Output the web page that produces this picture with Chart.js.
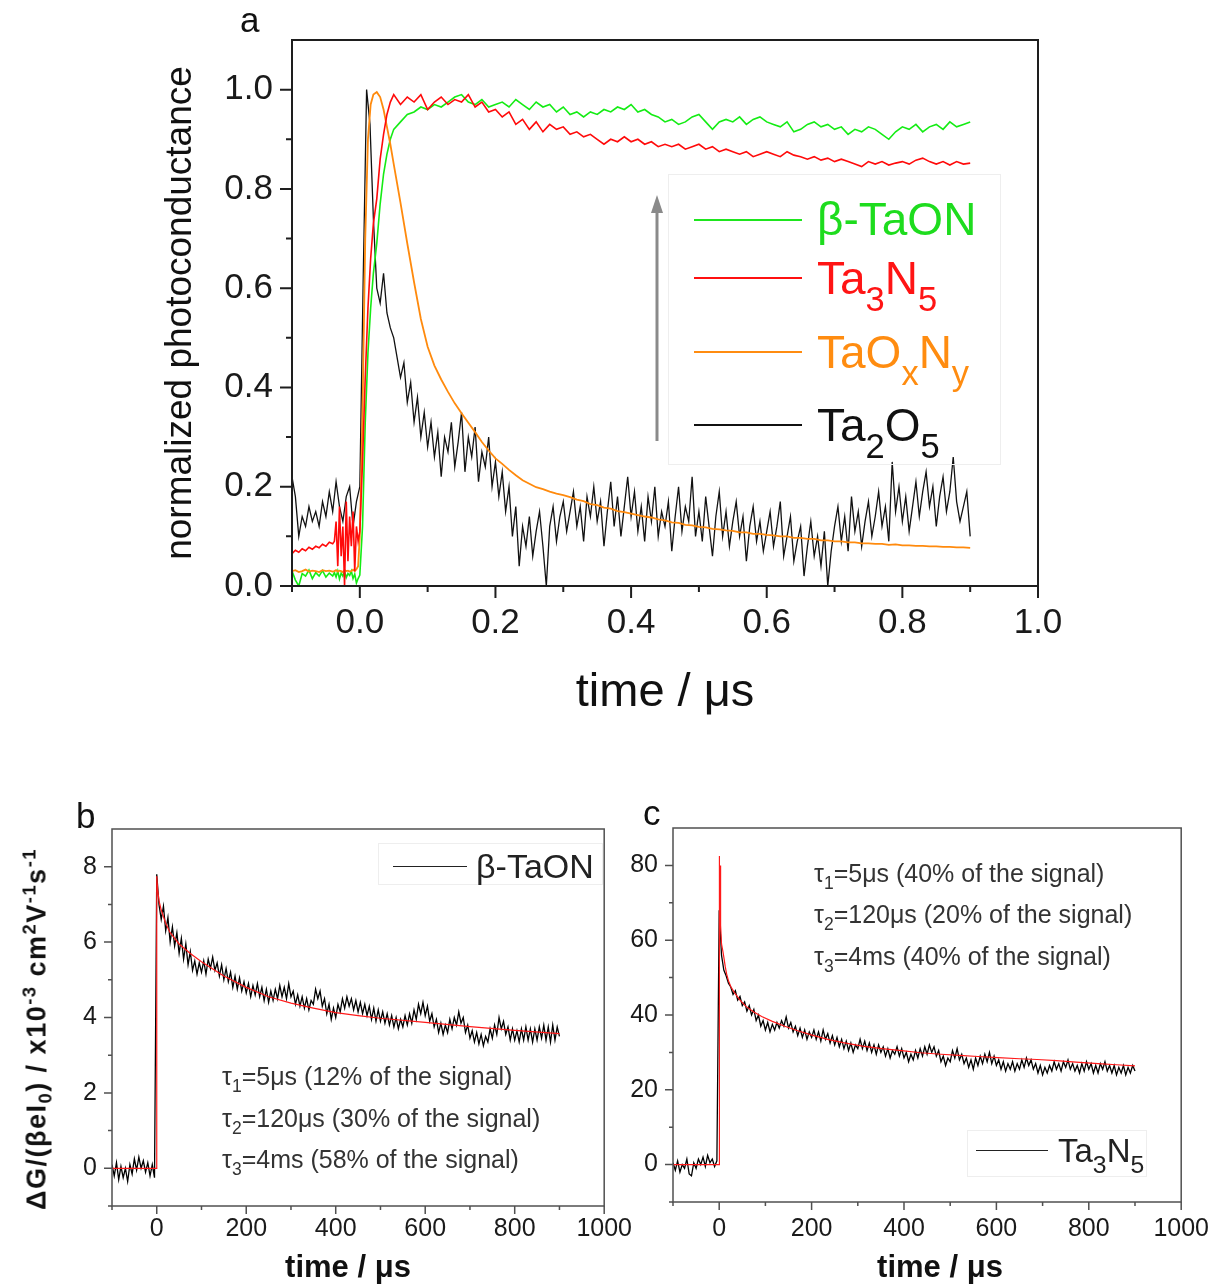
<!DOCTYPE html>
<html><head><meta charset="utf-8">
<script src="https://cdn.jsdelivr.net/npm/chart.js@4.4.1/dist/chart.umd.min.js"></script>
<style>
html,body{margin:0;padding:0;background:#fff;}
body{width:1221px;height:1287px;position:relative;overflow:hidden;font-family:"Liberation Sans",Arial,sans-serif;}
canvas{position:absolute;}
.t{position:absolute;white-space:nowrap;line-height:1;}
.box{position:absolute;border:1px solid #eeeeee;box-sizing:border-box;}
.ln{position:absolute;}
.lg sub{font-size:75%;vertical-align:-17px;line-height:0;}
.ls sub{font-size:75%;vertical-align:-11px;line-height:0;}
.an sub{font-size:70%;vertical-align:-7px;line-height:0;}
.yt sup{font-size:68%;vertical-align:10px;line-height:0;}
.yt sub{font-size:68%;vertical-align:-6px;line-height:0;}
</style></head><body>
<canvas id="ca" width="1221" height="760" style="left:0;top:0"></canvas>
<canvas id="cb" width="640" height="497" style="left:0;top:790px"></canvas>
<canvas id="cc" width="601" height="497" style="left:620px;top:790px"></canvas>

<!-- panel letters -->
<div class="t" style="left:240px;top:2px;font-size:35px;color:#111">a</div>
<div class="t" style="left:76px;top:798px;font-size:35px;color:#111">b</div>
<div class="t" style="left:643px;top:795px;font-size:35px;color:#111">c</div>

<!-- panel a legend -->
<div class="box" style="left:668px;top:174px;width:333px;height:291px"></div>
<svg style="position:absolute;left:0;top:0" width="1221" height="760">
  <line x1="657" y1="441" x2="657" y2="208" stroke="#8a8a8a" stroke-width="3"/>
  <polygon points="657,195 651,213 663,213" fill="#8a8a8a"/>
</svg>
<div class="ln" style="left:694px;top:218.5px;width:108px;height:2px;background:#1ee61e"></div>
<div class="ln" style="left:694px;top:277px;width:108px;height:2px;background:#ff1010"></div>
<div class="ln" style="left:694px;top:350.5px;width:108px;height:2px;background:#ff8c10"></div>
<div class="ln" style="left:694px;top:424px;width:108px;height:2px;background:#111"></div>
<div class="t lg" style="left:817px;top:196px;font-size:46px;color:#1edc1e">β-TaON</div>
<div class="t lg" style="left:817px;top:255px;font-size:46px;color:#ff1414">Ta<sub>3</sub>N<sub>5</sub></div>
<div class="t lg" style="left:817px;top:328.5px;font-size:46px;color:#ff8c10">TaO<sub>x</sub>N<sub>y</sub></div>
<div class="t lg" style="left:817px;top:402px;font-size:46px;color:#111">Ta<sub>2</sub>O<sub>5</sub></div>

<!-- panel b extras -->
<div class="box" style="left:378px;top:843px;width:225px;height:42px"></div>
<div class="ln" style="left:393px;top:865.5px;width:74px;height:1.5px;background:#222"></div>
<div class="t" style="left:476px;top:849px;font-size:34px;color:#222">β-TaON</div>
<div class="t an" style="left:222px;top:1064px;font-size:25px;color:#333">τ<sub>1</sub>=5μs (12% of the signal)</div>
<div class="t an" style="left:222px;top:1106px;font-size:25px;color:#333">τ<sub>2</sub>=120μs (30% of the signal)</div>
<div class="t an" style="left:222px;top:1147px;font-size:25px;color:#333">τ<sub>3</sub>=4ms (58% of the signal)</div>
<div class="t" style="left:348px;top:1251px;font-size:31px;font-weight:bold;color:#111;transform:translateX(-50%)">time / μs</div>
<div class="t yt" style="left:37px;top:1029px;font-size:27px;font-weight:bold;color:#111;letter-spacing:1.5px;transform:translate(-50%,-50%) rotate(-90deg)">ΔG/(βeI<sub>0</sub>) / x10<sup>-3</sup> cm<sup>2</sup>V<sup>-1</sup>s<sup>-1</sup></div>

<!-- panel c extras -->
<div class="box" style="left:967px;top:1130px;width:180px;height:47px"></div>
<div class="ln" style="left:976px;top:1149.5px;width:72px;height:1.5px;background:#222"></div>
<div class="t ls" style="left:1058px;top:1134px;font-size:33px;color:#222">Ta<sub>3</sub>N<sub>5</sub></div>
<div class="t an" style="left:814px;top:861px;font-size:25px;color:#333">τ<sub>1</sub>=5μs (40% of the signal)</div>
<div class="t an" style="left:814px;top:902px;font-size:25px;color:#333">τ<sub>2</sub>=120μs (20% of the signal)</div>
<div class="t an" style="left:814px;top:944px;font-size:25px;color:#333">τ<sub>3</sub>=4ms (40% of the signal)</div>
<div class="t" style="left:940px;top:1251px;font-size:31px;font-weight:bold;color:#111;transform:translateX(-50%)">time / μs</div>

<script>
// ---------------- DATA ----------------
// Panel a: shared time axis for β-TaON, Ta3N5, TaOxNy (μs)
const tA = [-0.100,-0.095,-0.090,-0.085,-0.080,-0.075,-0.070,-0.065,-0.060,-0.055,-0.050,-0.045,-0.040,
 -0.0375,-0.035,-0.0325,-0.030,-0.0275,-0.025,-0.0225,-0.020,-0.0175,-0.015,-0.0125,-0.010,-0.0075,-0.005,-0.0025,0.000,
 0.004,0.008,0.012,0.016,0.020,
 0.025,0.030,0.035,0.040,0.045,0.050,
 0.06,0.07,0.08,0.09,0.10,
 0.11,0.12,0.13,0.14,0.15,0.16,0.17,0.18,0.19,0.20,
 0.21,0.22,0.23,0.24,0.25,0.26,0.27,0.28,0.29,0.30,
 0.31,0.32,0.33,0.34,0.35,0.36,0.37,0.38,0.39,0.40,
 0.41,0.42,0.43,0.44,0.45,0.46,0.47,0.48,0.49,0.50,
 0.51,0.52,0.53,0.54,0.55,0.56,0.57,0.58,0.59,0.60,
 0.61,0.62,0.63,0.64,0.65,0.66,0.67,0.68,0.69,0.70,
 0.71,0.72,0.73,0.74,0.75,0.76,0.77,0.78,0.79,0.80,
 0.81,0.82,0.83,0.84,0.85,0.86,0.87,0.88,0.89,0.90];

const greenA = [0.03,0.012,0.0,0.025,0.02,0.032,0.015,0.027,0.02,0.031,0.018,0.026,0.02,
 0.027,0.018,0.03,0.014,0.026,0.02,0.029,0.017,0.025,0.021,0.03,0.015,0.024,0.006,0.015,0.022,
 0.12,0.33,0.47,0.56,0.63,
 0.69,0.77,0.83,0.87,0.90,0.92,
 0.935,0.95,0.955,0.965,0.96,
 0.97,0.965,0.975,0.985,0.99,0.975,0.97,0.98,0.965,0.97,
 0.975,0.965,0.98,0.97,0.96,0.975,0.965,0.97,0.955,0.965,
 0.95,0.955,0.945,0.955,0.95,0.96,0.955,0.965,0.96,0.97,
 0.955,0.96,0.95,0.945,0.935,0.94,0.93,0.935,0.945,0.95,
 0.935,0.92,0.935,0.94,0.935,0.945,0.93,0.94,0.945,0.935,
 0.93,0.925,0.935,0.915,0.92,0.93,0.935,0.925,0.93,0.92,
 0.925,0.91,0.92,0.915,0.925,0.92,0.91,0.9,0.915,0.925,
 0.92,0.93,0.915,0.925,0.93,0.92,0.935,0.925,0.93,0.935];

const redA = [0.065,0.072,0.068,0.075,0.071,0.078,0.074,0.08,0.077,0.084,0.08,0.088,0.085,
 0.09,0.13,0.04,0.16,0.06,0.12,0.0,0.17,0.05,0.14,0.08,0.15,0.03,0.12,0.09,0.11,
 0.25,0.42,0.56,0.66,0.73,
 0.78,0.86,0.91,0.95,0.975,0.99,
 0.97,0.985,0.975,0.99,0.96,
 0.975,0.985,0.97,0.98,0.975,0.99,0.965,0.975,0.955,0.96,
 0.945,0.955,0.93,0.94,0.92,0.935,0.915,0.93,0.92,0.925,
 0.91,0.915,0.905,0.91,0.9,0.89,0.9,0.895,0.905,0.895,
 0.9,0.89,0.895,0.885,0.89,0.885,0.89,0.88,0.885,0.89,
 0.88,0.885,0.875,0.88,0.875,0.87,0.875,0.865,0.87,0.875,
 0.87,0.865,0.875,0.868,0.865,0.86,0.865,0.858,0.862,0.855,
 0.86,0.855,0.85,0.845,0.855,0.85,0.855,0.848,0.852,0.855,
 0.85,0.858,0.862,0.855,0.85,0.855,0.848,0.855,0.85,0.852];

const orangeA = [0.03,0.032,0.028,0.03,0.033,0.029,0.031,0.03,0.028,0.032,0.03,0.031,0.029,
 0.03,0.032,0.029,0.031,0.03,0.028,0.032,0.03,0.031,0.029,0.03,0.033,0.03,0.034,0.04,0.1,
 0.35,0.7,0.9,0.97,0.99,
 0.995,0.985,0.96,0.925,0.89,0.85,
 0.772,0.69,0.612,0.538,0.482,
 0.444,0.416,0.391,0.368,0.348,0.329,0.31,0.29,0.273,0.257,
 0.246,0.234,0.223,0.213,0.206,0.199,0.195,0.19,0.186,0.183,
 0.179,0.174,0.171,0.165,0.163,0.158,0.156,0.151,0.149,0.146,
 0.143,0.14,0.138,0.134,0.132,0.128,0.127,0.123,0.122,0.119,
 0.118,0.115,0.114,0.112,0.111,0.108,0.108,0.105,0.105,0.103,
 0.102,0.1,0.1,0.097,0.097,0.095,0.095,0.092,0.092,0.09,
 0.09,0.088,0.088,0.086,0.086,0.085,0.085,0.083,0.084,0.082,
 0.082,0.081,0.081,0.08,0.08,0.079,0.079,0.078,0.078,0.077];

// Ta2O5 sampled every 0.005 μs from -0.100 to 0.900
const tBlackA0 = -0.1, dtBlackA = 0.005;
const blackA = [0.22,0.18,0.1,0.14,0.12,0.16,0.13,0.15,0.12,0.17,
 0.14,0.19,0.15,0.21,0.16,0.13,0.18,0.2,0.12,0.17,
 0.2,0.62,1.0,0.93,0.74,0.6,0.57,0.63,0.55,0.52,
 0.5,0.46,0.42,0.45,0.37,0.41,0.33,0.38,0.3,0.35,
 0.28,0.33,0.26,0.31,0.22,0.3,0.27,0.33,0.24,0.29,
 0.35,0.23,0.3,0.26,0.32,0.21,0.27,0.24,0.3,0.2,
 0.25,0.18,0.23,0.15,0.2,0.1,0.16,0.04,0.12,0.08,
 0.14,0.06,0.11,0.15,0.08,0.0,0.12,0.16,0.09,0.14,
 0.17,0.11,0.15,0.19,0.12,0.16,0.09,0.18,0.14,0.2,
 0.13,0.17,0.08,0.15,0.21,0.12,0.18,0.1,0.16,0.22,
 0.14,0.19,0.11,0.16,0.09,0.18,0.13,0.2,0.1,0.15,
 0.12,0.17,0.07,0.14,0.2,0.11,0.16,0.13,0.22,0.1,
 0.15,0.09,0.18,0.12,0.06,0.14,0.19,0.1,0.15,0.08,
 0.13,0.17,0.1,0.14,0.05,0.12,0.16,0.09,0.13,0.07,
 0.11,0.15,0.08,0.12,0.17,0.06,0.1,0.14,0.05,0.09,
 0.12,0.02,0.08,0.13,0.06,0.1,0.04,0.11,0.0,0.07,
 0.12,0.16,0.09,0.14,0.07,0.18,0.11,0.15,0.08,0.13,
 0.17,0.1,0.14,0.19,0.12,0.16,0.09,0.25,0.15,0.2,
 0.13,0.18,0.11,0.16,0.21,0.14,0.19,0.23,0.16,0.2,
 0.12,0.18,0.22,0.15,0.19,0.26,0.17,0.13,0.16,0.19,
 0.1];

const xTicksA = [0,0.2,0.4,0.6,0.8,1.0];
const xMinorA = [-0.1,0.1,0.3,0.5,0.7,0.9];
const yTicksA = [0,0.2,0.4,0.6,0.8,1.0];
const yMinorA = [0.1,0.3,0.5,0.7,0.9];

// Panel b: β-TaON, sampled every 5 μs from -100 to 900
const tB0 = -100, dtB = 5;
const signalB = [0.1,-0.2,0.15,-0.3,0.05,-0.25,0.0,-0.35,0.1,-0.15,0.25,-0.05,0.3,0.0,0.2,-0.1,0.15,-0.2,0.1,-0.25,
 7.8,7.0,
 6.6,6.95,6.3,6.65,6.0,6.4,5.9,6.25,5.7,6.1,
 5.55,5.95,5.4,5.75,5.25,5.5,5.15,5.45,5.2,5.5,
 5.15,5.55,5.3,5.6,5.25,5.45,5.1,5.4,5.0,5.3,
 4.95,5.2,4.8,5.1,4.75,5.05,4.7,4.95,4.65,4.9,
 4.55,4.85,4.6,4.9,4.55,4.8,4.45,4.75,4.4,4.7,
 4.45,4.75,4.5,4.85,4.55,4.8,4.5,4.9,4.55,4.7,
 4.35,4.6,4.3,4.55,4.25,4.5,4.2,4.45,4.35,4.75,
 4.5,4.7,4.3,4.5,4.1,4.35,3.95,4.25,4.0,4.35,
 4.15,4.5,4.25,4.55,4.3,4.5,4.2,4.45,4.15,4.4,
 4.1,4.35,4.05,4.3,3.95,4.25,3.9,4.2,3.9,4.15,
 3.85,4.1,3.8,4.05,3.75,4.0,3.7,3.95,3.75,4.05,
 3.8,4.1,3.85,4.2,3.95,4.35,4.1,4.4,4.05,4.3,
 3.9,4.1,3.75,3.95,3.6,3.85,3.55,3.8,3.6,3.95,
 3.7,4.0,3.8,4.15,3.85,4.0,3.6,3.8,3.45,3.65,
 3.35,3.6,3.3,3.55,3.25,3.5,3.35,3.7,3.45,3.8,
 3.55,4.0,3.7,3.9,3.55,3.75,3.4,3.7,3.4,3.65,
 3.35,3.7,3.4,3.75,3.4,3.7,3.35,3.7,3.4,3.75,
 3.45,3.8,3.4,3.75,3.35,3.8,3.4,3.75,3.5];
const tFitB = [-100,0,0,2,5,10,20,30,50,75,100,150,200,250,300,350,400,450,500,600,700,800,900];
const yFitB = [0,0,7.75,7.4,7.1,6.85,6.5,6.25,5.95,5.7,5.48,5.1,4.8,4.55,4.38,4.25,4.13,4.05,3.98,3.87,3.76,3.66,3.57];
const xTicksBC = [0,200,400,600,800,1000];
const xMinorBC = [-100,100,300,500,700,900];
const yTicksB = [0,2,4,6,8];
const yMinorB = [-1,1,3,5,7];

// Panel c: Ta3N5, sampled every 5 μs from -100 to 900
const tC0 = -100, dtC = 5;
const signalC = [0.5,-1.5,1.0,-2.0,0.0,-1.0,1.5,-2.5,-3.0,0.5,-1.0,1.5,0.0,2.0,-0.5,2.5,0.5,1.5,-0.5,1.0,
 68,56,
 52,50.5,48.5,47.5,45.5,46.5,44,45,42.5,43.5,
 41,42.5,40,41.5,38.5,40,37,38.5,36,38,
 35.5,37.5,36,38,36.5,38.5,37,39.5,36.5,38,
 35.5,37,34.5,36.5,34,36,33.5,35.5,34,36,
 33.5,35.5,33,36,33.5,35,32.5,34.5,32,34,
 31.5,33.5,31,33,30.5,32.5,30,32,31,33.5,
 31,33,30.5,32.5,30,32,29.5,32,30,31.5,
 29,31,28.5,30.5,29.5,31.5,29,31,28.5,30,
 27.5,29.5,28,30.5,28.5,31,29,31.5,29.5,32,
 30,31.5,29,30.5,27.5,29,26.5,28.5,27.5,30.5,
 28.5,31,28,29.5,27,28.5,26,28,25.5,28.5,
 26.5,29,27,29.5,27.5,30,27,29,26.5,28,
 25.5,27.5,25,27,25.5,27.5,25,27,25.5,28,
 26,28.5,26.5,28,25.5,27,24.5,26.5,24,26,
 24.5,26.5,25,27.5,25.5,27,25,27.5,26,28,
 25.5,27,25,26.5,24.5,27,25,27.5,25.5,27,
 24.5,26.5,24.5,27,25.5,27.5,25,26.5,24.5,26.5,
 24,26,24.5,26.5,24,26,24.5,26.5,25];
const tFitC = [-100,0,0,1,2,3,5,8,10,13,16,20,25,33,45,58,75,92,115,142,170,201,235,268,310,352,400,436,480,520,560,604,650,688,730,772,820,860,900];
const yFitC = [0,0,82.5,62,80,64,59,57,55.5,53,51,49.2,47.6,46,44,42.3,40.8,39.6,38.3,37,35.8,34.6,33.5,32.6,31.7,31,30.4,29.9,29.5,29.2,28.9,28.6,28.3,28.1,27.8,27.4,27,26.7,26.4];
const yTicksC = [0,20,40,60,80];
const yMinorC = [-10,10,30,50,70];

// ---------------- HELPERS ----------------
const FONT = '"Liberation Sans", Arial, sans-serif';
const pts = (xs, ys) => ys.map((y, i) => ({x: xs[i], y}));
const grid = (t0, dt, n) => Array.from({length: n}, (_, i) => +(t0 + i * dt).toFixed(5));

const framePlugin = {
  id: 'frame',
  afterDatasetsDraw(chart, args, o) {
    const {ctx, chartArea: a} = chart;
    const x = chart.scales.x, y = chart.scales.y;
    ctx.save();
    ctx.strokeStyle = o.color; ctx.lineWidth = o.width;
    ctx.strokeRect(a.left, a.top, a.right - a.left, a.bottom - a.top);
    ctx.beginPath();
    const xt = (v, len) => { const p = x.getPixelForValue(v); ctx.moveTo(p, a.bottom); ctx.lineTo(p, a.bottom + len); };
    const yt = (v, len) => { const p = y.getPixelForValue(v); ctx.moveTo(a.left, p); ctx.lineTo(a.left - len, p); };
    x.ticks.forEach(t => xt(t.value, o.major));
    o.xMinor.forEach(v => xt(v, o.minor));
    y.ticks.forEach(t => yt(t.value, o.major));
    o.yMinor.forEach(v => yt(v, o.minor));
    ctx.stroke();
    ctx.restore();
  }
};

function axis(min, max, ticks, fit, fitProp, pad, size, cb, title) {
  return {
    type: 'linear', min, max,
    grid: {display: false, drawTicks: false},
    border: {display: false},
    afterBuildTicks: s => { s.ticks = ticks.map(v => ({value: v})); },
    afterFit: s => { s[fitProp] = fit; },
    ticks: {padding: pad, autoSkip: false, maxRotation: 0, color: '#1a1a1a',
            font: {size, family: FONT}, callback: cb},
    title: title || {display: false}
  };
}

const common = {
  responsive: false, animation: false, events: [],
  elements: {point: {radius: 0}, line: {tension: 0, fill: false}},
};

// ---------------- PANEL A ----------------
new Chart(document.getElementById('ca'), {
  type: 'line',
  data: {datasets: [
    {label: 'Ta3N5', data: pts(tA, redA), borderColor: '#ff0a0a', borderWidth: 1.6},
    {label: 'TaOxNy', data: pts(tA, orangeA), borderColor: '#ff8a0d', borderWidth: 1.8},
    {label: 'β-TaON', data: pts(tA, greenA), borderColor: '#14ec14', borderWidth: 1.6},
    {label: 'Ta2O5', data: pts(grid(tBlackA0, dtBlackA, blackA.length), blackA), borderColor: '#111', borderWidth: 1.3}
  ]},
  options: Object.assign({}, common, {
    layout: {padding: {left: 0, top: 40, right: 183, bottom: 0}},
    plugins: {legend: {display: false}, tooltip: {enabled: false},
      frame: {color: '#1e1e1e', width: 2, major: 12, minor: 6, xMinor: xMinorA, yMinor: yMinorA}},
    scales: {
      x: axis(-0.1, 1.0, xTicksA, 174, 'height', 16, 35, v => v.toFixed(1),
        {display: true, text: 'time / μs', color: '#111', font: {size: 47, family: FONT}, padding: {top: 0, bottom: 39}}),
      y: axis(0, 1.1, yTicksA, 292, 'width', 19, 35, v => v.toFixed(1),
        {display: true, text: 'normalized photoconductance', color: '#111', font: {size: 37, family: FONT}, padding: {top: 159, bottom: 0}})
    }
  }),
  plugins: [framePlugin]
});

// ---------------- PANEL B ----------------
new Chart(document.getElementById('cb'), {
  type: 'line',
  data: {datasets: [
    {label: 'fit', data: pts(tFitB, yFitB), borderColor: '#ff1a1a', borderWidth: 1.2},
    {label: 'β-TaON', data: pts(grid(tB0, dtB, signalB.length), signalB), borderColor: '#000', borderWidth: 1.3}
  ]},
  options: Object.assign({}, common, {
    layout: {padding: {left: 0, top: 39, right: 14, bottom: 0}},
    plugins: {legend: {display: false}, tooltip: {enabled: false},
      frame: {color: '#505050', width: 1.5, major: 8, minor: 4, xMinor: xMinorBC, yMinor: yMinorB}},
    scales: {
      x: axis(-100, 1000, xTicksBC, 81, 'height', 8, 25, v => String(v)),
      y: axis(-1, 9, yTicksB, 112, 'width', 15, 25, v => String(v))
    }
  }),
  plugins: [framePlugin]
});

// ---------------- PANEL C ----------------
new Chart(document.getElementById('cc'), {
  type: 'line',
  data: {datasets: [
    {label: 'fit', data: pts(tFitC, yFitC), borderColor: '#ff1a1a', borderWidth: 1.2},
    {label: 'Ta3N5', data: pts(grid(tC0, dtC, signalC.length), signalC), borderColor: '#000', borderWidth: 1.3}
  ]},
  options: Object.assign({}, common, {
    layout: {padding: {left: 0, top: 38, right: 38, bottom: 0}},
    plugins: {legend: {display: false}, tooltip: {enabled: false},
      frame: {color: '#505050', width: 1.5, major: 8, minor: 4, xMinor: xMinorBC, yMinor: yMinorC}},
    scales: {
      x: axis(-100, 1000, xTicksBC, 85, 'height', 12, 25, v => String(v)),
      y: axis(-10, 90, yTicksC, 53, 'width', 15, 25, v => String(v))
    }
  }),
  plugins: [framePlugin]
});
</script>
</body></html>
